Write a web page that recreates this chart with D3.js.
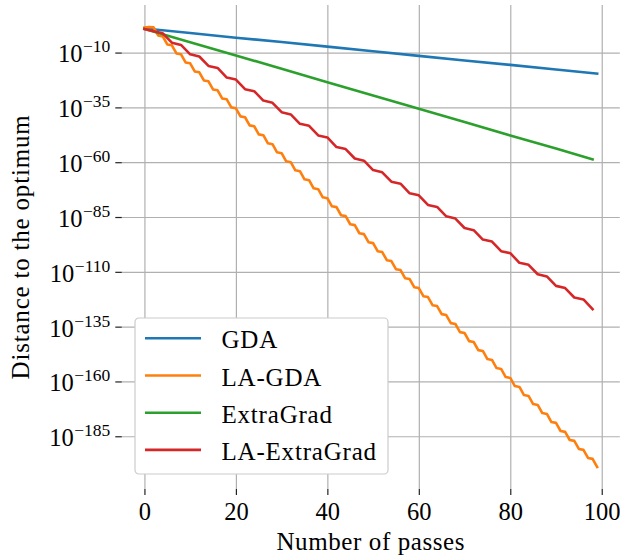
<!DOCTYPE html>
<html>
<head>
<meta charset="utf-8">
<script src="https://cdn.jsdelivr.net/npm/d3@7"></script>
<style>
body { margin: 0; background: #fff; }
text { font-family: "Liberation Serif", "DejaVu Serif", serif; fill: #000; }
</style>
</head>
<body>
<svg id="chart" width="620" height="559"></svg>
<script>
// log10 of the distance to the optimum
const gdaPasses = [0, 10, 20, 30, 40, 50, 60, 70, 80, 90, 99];
const gdaLog10 = [1.0, -1.1, -3.2, -5.2, -7.3, -9.4, -11.5, -13.6, -15.6, -17.7, -19.6];

const laGdaPasses = d3.range(0, 100);
const laGdaLog10 = [1.4, 1.7, 1.5, -2.2, -2.6, -6.3, -6.7, -10.4, -10.8, -14.5,
  -14.9, -18.6, -19.0, -22.7, -23.1, -26.8, -27.2, -30.9, -31.3, -35.0,
  -35.4, -39.1, -39.5, -43.2, -43.6, -47.3, -47.7, -51.4, -51.8, -55.5,
  -55.9, -59.6, -60.0, -63.7, -64.1, -67.8, -68.2, -71.9, -72.3, -76.0,
  -76.4, -80.1, -80.5, -84.2, -84.6, -88.3, -88.7, -92.4, -92.8, -96.5,
  -96.9, -100.6, -101.0, -104.7, -105.1, -108.8, -109.2, -112.9, -113.3, -117.0,
  -117.4, -121.1, -121.5, -125.2, -125.6, -129.3, -129.7, -133.4, -133.8, -137.5,
  -137.9, -141.6, -142.0, -145.7, -146.1, -149.8, -150.2, -153.9, -154.3, -158.0,
  -158.4, -162.1, -162.5, -166.2, -166.6, -170.3, -170.7, -174.4, -174.8, -178.5,
  -178.9, -182.6, -183.0, -186.7, -187.1, -190.8, -191.2, -194.9, -195.3, -199.0];

const egPasses = [0, 10, 20, 30, 40, 50, 60, 70, 80, 90, 98];
const egLog10 = [0.8, -5.3, -11.3, -17.4, -23.5, -29.6, -35.6, -41.7, -47.8, -53.8, -58.7];

const laEgPasses = d3.range(0, 100, 2);
const laEgLog10 = [0.7, -0.3, -1.2, -5.5, -6.5, -10.8, -11.8, -16.1, -17.0, -21.4,
  -22.3, -26.7, -27.6, -31.9, -32.9, -37.2, -38.2, -42.5, -43.4, -47.8,
  -48.7, -53.1, -54.0, -58.3, -59.3, -63.6, -64.6, -68.9, -69.8, -74.2,
  -75.1, -79.5, -80.4, -84.7, -85.7, -90.0, -91.0, -95.3, -96.2, -100.6,
  -101.5, -105.9, -106.8, -111.1, -112.1, -116.4, -117.4, -121.7, -122.6, -127.0];

const seriesNames = ['GDA', 'LA-GDA', 'ExtraGrad', 'LA-ExtraGrad'];
const seriesColors = ['#1f77b4', '#ff7f0e', '#2ca02c', '#d62728'];
const xTicks = [0, 20, 40, 60, 80, 100];
const yTicks = [-10, -35, -60, -85, -110, -135, -160, -185];

const series = [
  {name: seriesNames[0], color: seriesColors[0], xs: gdaPasses, ys: gdaLog10},
  {name: seriesNames[1], color: seriesColors[1], xs: laGdaPasses, ys: laGdaLog10},
  {name: seriesNames[2], color: seriesColors[2], xs: egPasses, ys: egLog10},
  {name: seriesNames[3], color: seriesColors[3], xs: laEgPasses, ys: laEgLog10}
];

const plotLeft = 121.8, plotRight = 619.8, plotTop = 5, plotBottom = 489;

const x = d3.scaleLinear().domain([-4.95, 103.95]).range([plotLeft, plotRight]);
const y = d3.scaleLinear().domain([-209.05, 11.7]).range([plotBottom, plotTop]);

const svg = d3.select('#chart');

// grid
svg.append('g').attr('transform', 'translate(0,' + plotBottom + ')')
  .call(d3.axisBottom(x).tickValues(xTicks).tickSize(-(plotBottom - plotTop)).tickFormat(''))
  .call(g => g.select('.domain').remove())
  .selectAll('line').attr('stroke', '#b0b0b0').attr('stroke-width', 1.2);

svg.append('g').attr('transform', 'translate(' + plotLeft + ',0)')
  .call(d3.axisLeft(y).tickValues(yTicks).tickSize(-(plotRight - plotLeft)).tickFormat(''))
  .call(g => g.select('.domain').remove())
  .selectAll('line').attr('stroke', '#b0b0b0').attr('stroke-width', 1.2);

// x axis ticks + labels
const xAxis = svg.append('g').attr('transform', 'translate(0,' + plotBottom + ')')
  .call(d3.axisBottom(x).tickValues(xTicks).tickSize(6))
  .call(g => g.select('.domain').remove());
xAxis.selectAll('line').attr('stroke', '#222').attr('stroke-width', 1.2);
xAxis.selectAll('text').attr('font-size', 24.5).attr('font-family', null).attr('dy', 0).attr('y', 31);

// y axis ticks + labels as 10^k
const yAxis = svg.append('g').attr('transform', 'translate(' + plotLeft + ',0)')
  .call(d3.axisLeft(y).tickValues(yTicks).tickSize(6.5))
  .call(g => g.select('.domain').remove());
yAxis.selectAll('line').attr('stroke', '#222').attr('stroke-width', 1.2);
yAxis.selectAll('text').each(function(d) {
  const t = d3.select(this).text('').attr('font-family', null)
    .attr('x', -11.5).attr('dy', 0).attr('y', 9.4).attr('text-anchor', 'end');
  t.append('tspan').attr('font-size', 24.5).text('10');
  t.append('tspan').attr('font-size', 17.5).attr('dy', -10).attr('dx', 0.5).text('\u2212' + Math.abs(d));
});

// lines
const line = d3.line().x(d => x(d[0])).y(d => y(d[1]));
svg.append('g').selectAll('path').data(series).enter().append('path')
  .attr('d', s => line(s.xs.map((p, i) => [p, s.ys[i]])))
  .attr('fill', 'none')
  .attr('stroke', s => s.color)
  .attr('stroke-width', 2.6)
  .attr('stroke-linejoin', 'round')
  .attr('stroke-linecap', 'square');

// legend
const legend = svg.append('g').attr('transform', 'translate(135,318)');
legend.append('rect').attr('width', 253).attr('height', 156).attr('rx', 4)
  .attr('fill', '#fff').attr('stroke', '#cccccc').attr('stroke-width', 1.2);
const item = legend.selectAll('g').data(series).enter().append('g')
  .attr('transform', (d, i) => 'translate(0,' + (20.3 + i * 37.2) + ')');
item.append('line').attr('x1', 10).attr('x2', 66)
  .attr('stroke', d => d.color).attr('stroke-width', 2.6);
item.append('text').attr('x', 86.5).attr('y', 10).attr('font-size', 25)
  .attr('letter-spacing', 0.8).text(d => d.name);

// axis titles
svg.append('text').attr('x', (plotLeft + plotRight) / 2).attr('y', 550)
  .attr('text-anchor', 'middle').attr('font-size', 25).attr('letter-spacing', 0.6)
  .text('Number of passes');
svg.append('text').attr('transform', 'translate(29,' + (plotTop + plotBottom) / 2 + ') rotate(-90)')
  .attr('text-anchor', 'middle').attr('font-size', 25).attr('letter-spacing', 0.8)
  .text('Distance to the optimum');
</script>
</body>
</html>
